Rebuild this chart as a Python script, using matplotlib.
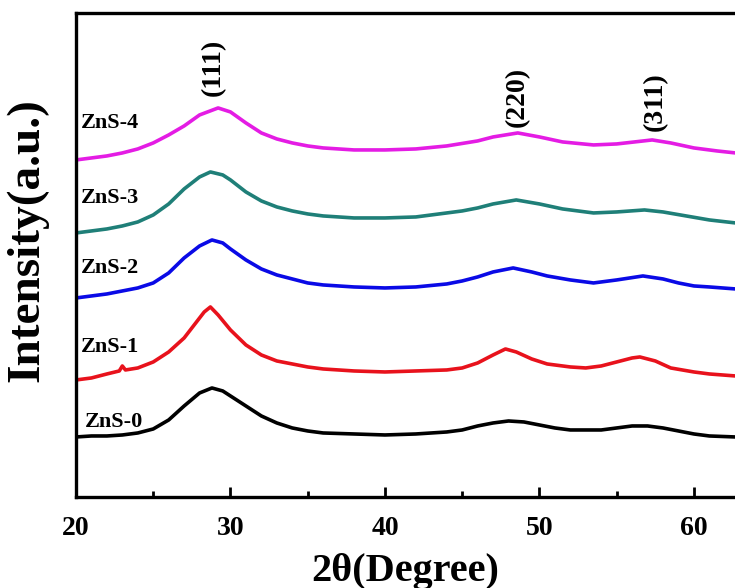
import matplotlib
matplotlib.use("Agg")
import matplotlib.pyplot as plt
from matplotlib.ticker import MultipleLocator

plt.rcParams["font.family"] = ["Liberation Serif", "DejaVu Serif"]
plt.rcParams["font.weight"] = "bold"

# ---- data (2theta, intensity a.u. with offsets) ----
x0 = [20, 21, 22, 23, 24, 25, 26, 27, 28, 28.8, 29.5, 30, 31, 32, 33, 34, 35, 36,
      38, 40, 42, 44, 45, 46, 47, 48, 49, 50, 51, 52, 53, 54, 55, 56, 57, 58, 59,
      60, 61, 62.7]
y0 = [60, 61, 61, 62, 64, 68, 77, 91, 104, 109, 106, 101, 91, 81, 74, 69, 66, 64,
      63, 62, 63, 65, 67, 71, 74, 76, 75, 72, 69, 67, 67, 67, 69, 71, 71, 69, 66,
      63, 61, 60]

x1 = [20, 21, 22, 22.8, 23, 23.2, 24, 25, 26, 27, 27.8, 28.3, 28.7, 29.2, 30, 31,
      32, 33, 34, 35, 36, 38, 40, 42, 44, 45, 46, 47, 47.8, 48.5, 49.5, 50.5, 52,
      53, 54, 55, 56, 56.5, 57.5, 58.5, 60, 61, 62.7]
y1 = [117, 119, 123, 126, 131, 127, 129, 135, 145, 159, 175, 185, 190, 182, 167,
      152, 142, 136, 133, 130, 128, 126, 125, 126, 127, 129, 134, 142, 148, 145,
      138, 133, 130, 129, 131, 135, 139, 140, 136, 129, 125, 123, 121]

x2 = [20, 21, 22, 23, 24, 25, 26, 27, 28, 28.8, 29.5, 30, 31, 32, 33, 34, 35, 36,
      38, 40, 42, 44, 45, 46, 47, 48.3, 49.5, 50.5, 52, 53.5, 55, 56.7, 58, 59,
      60, 61, 62.7]
y2 = [199, 201, 203, 206, 209, 214, 224, 239, 251, 257, 254, 248, 237, 228, 222,
      218, 214, 212, 210, 209, 210, 213, 216, 220, 225, 229, 225, 221, 217, 214,
      217, 221, 218, 214, 211, 210, 208]

x3 = [20, 21, 22, 23, 24, 25, 26, 27, 28, 28.7, 29.5, 30, 31, 32, 33, 34, 35, 36,
      38, 40, 42, 44, 45, 46, 47, 48.5, 50, 51.5, 53.5, 55, 56.8, 58, 59.5, 61,
      62.7]
y3 = [264, 266, 268, 271, 275, 282, 293, 308, 320, 325, 322, 317, 305, 296, 290,
      286, 283, 281, 279, 279, 280, 284, 286, 289, 293, 297, 293, 288, 284, 285,
      287, 285, 281, 277, 274]

x4 = [20, 21, 22, 23, 24, 25, 26, 27, 28, 29.2, 30, 31, 32, 33, 34, 35, 36, 38, 40,
      42, 44, 46, 47, 48.6, 50, 51.5, 53.5, 55, 57.3, 58.5, 60, 61.5, 62.7]
y4 = [337, 339, 341, 344, 348, 354, 362, 371, 382, 389, 385, 374, 364, 358, 354,
      351, 349, 347, 347, 348, 351, 356, 360, 364, 360, 355, 352, 353, 357, 354,
      349, 346, 344]

series = [(x0, y0), (x1, y1), (x2, y2), (x3, y3), (x4, y4)]
names = ["ZnS-0", "ZnS-1", "ZnS-2", "ZnS-3", "ZnS-4"]
colors = ["#000000", "#e8121c", "#0a0ae6", "#1f7f78", "#e41ce4"]
label_xy = [(20.6, 75), (20.3, 150), (20.3, 229), (20.3, 299), (20.3, 374)]

planes = ["(111)", "(220)", "(311)"]
plane_xy = [(28.9, 430), (48.6, 400), (57.5, 395)]

fig = plt.figure(figsize=(7.35, 5.88), dpi=100)
ax = fig.add_axes([0.1034, 0.1548, 0.8966, 0.8232])

for (xs, ys), c in zip(series, colors):
    ax.plot(xs, ys, color=c, linewidth=2.6)

for name, (tx, ty) in zip(names, label_xy):
    ax.text(tx, ty, name, fontsize=16, fontweight="bold", ha="left", va="center")

for p, (px, py) in zip(planes, plane_xy):
    ax.text(px, py, p, fontsize=20, fontweight="bold", rotation=90,
            ha="center", va="center")

ax.set_xlim(20, 62.66)
ax.set_ylim(0, 484)
ax.set_yticks([])
ax.xaxis.set_major_locator(MultipleLocator(10))
ax.xaxis.set_minor_locator(MultipleLocator(5))
ax.tick_params(axis="x", which="major", direction="in", length=7, width=2,
               labelsize=20, pad=14)
ax.tick_params(axis="x", which="minor", direction="in", length=4, width=2)
for lab in ax.get_xticklabels():
    lab.set_fontweight("bold")

ax.spines["right"].set_visible(False)
for s in ["left", "top", "bottom"]:
    ax.spines[s].set_linewidth(2.4)

ax.set_xlabel("2θ(Degree)", fontsize=29, fontweight="bold", labelpad=8)
ax.set_ylabel("Intensity(a.u.)", fontsize=34, fontweight="bold")
ax.yaxis.set_label_coords(-0.042, 0.53)

fig.savefig("out.png", dpi=100)
